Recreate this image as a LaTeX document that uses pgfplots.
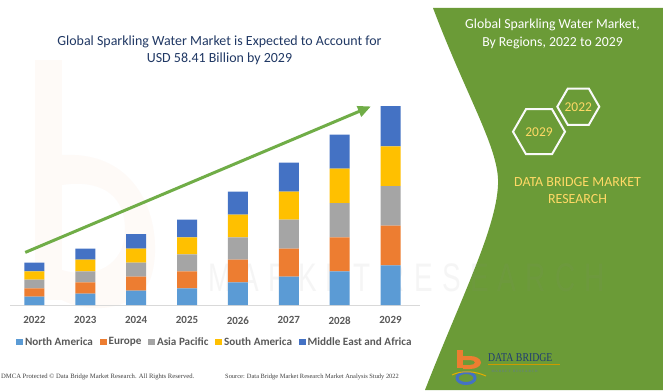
\documentclass[border=0pt]{standalone}
\usepackage{pgfplots}
\pgfplotsset{compat=1.18}
\usepackage{pgfplotstable}
\usepackage{fontspec}
\setmainfont{Carlito}
\newfontfamily\seriffont{Liberation Serif}
\newfontfamily\wmfont{Liberation Sans}
\usetikzlibrary{arrows.meta}
\definecolor{cNA}{HTML}{5B9BD5}
\definecolor{cEU}{HTML}{ED7D31}
\definecolor{cAP}{HTML}{A5A5A5}
\definecolor{cSA}{HTML}{FFC000}
\definecolor{cMEA}{HTML}{4472C4}
\definecolor{panel}{HTML}{6B9B37}
\definecolor{arrowg}{HTML}{70AD47}
\definecolor{titleblue}{HTML}{203864}
\definecolor{labgray}{HTML}{595959}
\definecolor{hexyellow}{HTML}{FFD966}
\definecolor{logoblue}{HTML}{1F3B73}

\pgfplotstableread{
x NA EU AP SA MEA
0 2.45 2.45 2.54 2.45 2.54
1 3.33 3.33 3.23 3.42 3.23
2 4.21 4.11 4.11 4.11 4.30
3 4.89 4.99 4.99 4.99 5.18
4 6.65 6.65 6.55 6.65 6.75
5 8.31 8.22 8.51 8.22 8.51
6 9.88 9.98 10.07 10.07 9.98
7 11.64 11.64 11.64 11.64 11.83
}\datatable

\begin{document}
\begin{tikzpicture}[x=1bp,y=1bp]
% canvas
\fill[white] (0,0) rectangle (663,390);
% faint watermark "b" on the left
\fill[cEU, opacity=0.035] (35,330) rectangle (62,90);
\fill[cEU, opacity=0.035] (62,235) .. controls (150,240) and (165,150) .. (150,110)
   .. controls (135,80) and (90,75) .. (62,90) -- (62,120) .. controls (95,110) and (125,125) .. (125,160)
   .. controls (125,200) and (95,210) .. (62,205) -- cycle;
% green panel
\fill[panel] (433,382) .. controls (468,290) and (500,240) .. (498,205)
  .. controls (496,160) and (460,90) .. (425,0) -- (663,0) -- (663,382) -- cycle;
\node[text=black!45, opacity=0.08, font=\wmfont\fontsize{40}{40}\selectfont, xscale=0.7, inner sep=0, anchor=west] at (208,112) {M\,\,A\,\,R\,\,K\,\,E\,\,T\,\,\,R\,\,E\,\,S\,\,E\,\,A\,\,R\,\,C\,\,H};

\begin{axis}[
  at={(10bp,85bp)}, anchor=south west, scale only axis,
  width=410bp, height=204.4bp,
  xmin=-0.48, xmax=7.58, ymin=0, ymax=60,
  ybar stacked, bar width=20bp,
  hide y axis,
  axis x line*=bottom,
  x axis line style={draw=black!15, line width=0.8bp},
  xtick={0,...,7},
  xticklabels={2022,2023,2024,2025,2026,2027,2028,2029},
  major tick length=0pt,
  xticklabel style={font=\bfseries\fontsize{11}{11}\selectfont, text=labgray, yshift=-8bp},
  legend columns=5,
  legend style={at={(0.5,-0.181)}, anchor=center, draw=none, fill=none,
    font=\bfseries\fontsize{11.2}{11.2}\selectfont, text=labgray,
    /tikz/every even column/.append style={column sep=5bp},
    /tikz/every odd column/.append style={column sep=0bp}},
  legend image code/.code={\fill[#1] (0bp,-3.3bp) rectangle (6.6bp,3.3bp);},
  clip=false,
]
\addplot[fill=cNA, draw=none] table[x=x, y=NA] {\datatable};
\addplot[fill=cEU, draw=none] table[x=x, y=EU] {\datatable};
\addplot[fill=cAP, draw=none] table[x=x, y=AP] {\datatable};
\addplot[fill=cSA, draw=none] table[x=x, y=SA] {\datatable};
\addplot[fill=cMEA, draw=none] table[x=x, y=MEA] {\datatable};
\legend{North America, Europe, Asia Pacific, South America, Middle East and Africa}
\draw[arrowg, line width=3bp, -{Triangle[length=13bp, width=11bp]}]
  (axis cs:-0.18,15.44) -- (axis cs:6.615,58.29);
\end{axis}

% main title
\node[text=titleblue, font=\fontsize{14}{14}\selectfont] at (219.5,348) {Global Sparkling Water Market is Expected to Account for};
\node[text=titleblue, font=\fontsize{14}{14}\selectfont] at (219.5,331) {USD 58.41 Billion by 2029};

% panel title
\node[text=white, font=\fontsize{13.8}{13.8}\selectfont] at (552.5,365) {Global Sparkling Water Market,};
\node[text=white, font=\fontsize{13.8}{13.8}\selectfont] at (552.5,347) {By Regions, 2022 to 2029};

% hexagons
\draw[white!95!gray, line width=2bp] (539,258.3) +(0:26) -- +(60:26) -- +(120:26) -- +(180:26) -- +(240:26) -- +(300:26) -- cycle;
\draw[white!95!gray, line width=2bp] (578.3,283.3) +(0:21) -- +(60:21) -- +(120:21) -- +(180:21) -- +(240:21) -- +(300:21) -- cycle;
\node[text=hexyellow, font=\fontsize{13.5}{13.5}\selectfont] at (539,258.3) {2029};
\node[text=hexyellow, font=\fontsize{13.5}{13.5}\selectfont] at (578.3,283.3) {2022};

\node[text=hexyellow, font=\fontsize{14}{14}\selectfont] at (577.5,208) {DATA BRIDGE MARKET};
\node[text=hexyellow, font=\fontsize{14}{14}\selectfont] at (577.5,191) {RESEARCH};

% logo
\fill[cEU] (457,40) rectangle (463,22);
\fill[cEU] (463,34) -- (470,34) arc[start angle=90, end angle=-90, x radius=11, y radius=6.5] -- (463,21) -- (463,25) -- (470,25) arc[start angle=-90, end angle=90, x radius=5, y radius=2.5] -- (463,30) -- cycle;
\draw[cMEA, line width=3bp] (466,12) ellipse (9 and 5.5);
\draw[cSA!90!black, line width=1bp] (452,15) .. controls (462,20) and (475,19) .. (486,14);
\node[text=logoblue, font=\seriffont\fontsize{12}{12}\selectfont, anchor=west, xscale=0.82, inner sep=0] at (488,32) {DATA BRIDGE};
\draw[cSA!80!black, line width=0.5bp] (488,26) -- (560,26);
\node[text=logoblue!70, font=\seriffont\fontsize{3.5}{4}\selectfont, anchor=west] at (488,19) {M A R K E T \ \ R E S E A R C H};

% footer
\node[text=black!75, font=\seriffont\fontsize{6.65}{7}\selectfont, anchor=west, inner sep=0] at (1,13) {DMCA Protected © Data Bridge Market Research. All Rights Reserved.};
\node[text=black!75, font=\seriffont\fontsize{6.45}{7}\selectfont, anchor=west, inner sep=0] at (225,13) {Source: Data Bridge Market Research Market Analysis Study 2022};
\end{tikzpicture}
\end{document}
